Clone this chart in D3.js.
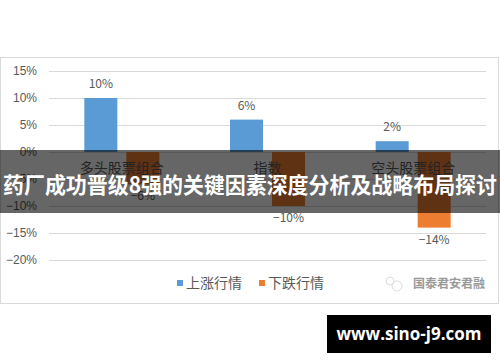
<!DOCTYPE html>
<html>
<head>
<meta charset="utf-8">
<script src="https://cdn.jsdelivr.net/npm/d3@7"></script>
<style>
  body { margin: 0; background: #fff; }
  svg { display: block; font-family: "Noto Sans CJK SC", "Noto Sans", sans-serif; }
</style>
</head>
<body>
<div id="chart"></div>
<script>
const categories = ['多头股票组合', '指数', '空头股票组合'];
const seriesNames = ['上涨行情', '下跌行情'];
const upValues = [0.10, 0.06, 0.02];
const downValues = [-0.06, -0.10, -0.14];
const yTicks = [0.15, 0.10, 0.05, 0, -0.05, -0.10, -0.15, -0.20];
const colors = ['#5B9BD5', '#ED7D31'];

const width = 500, height = 362;

const svg = d3.select('#chart').append('svg')
    .attr('width', width)
    .attr('height', height);

// chart frame
svg.append('rect')
    .attr('x', 0.5).attr('y', 57.5)
    .attr('width', 498).attr('height', 246)
    .attr('fill', '#fff')
    .attr('stroke', '#d9d9d9');

const x = d3.scaleBand()
    .domain(categories)
    .range([49, 486])
    .paddingInner(0.485)
    .paddingOuter(0.2425);

const xSub = d3.scaleBand()
    .domain(seriesNames)
    .range([0, x.bandwidth()])
    .paddingInner(0.214);

const y = d3.scaleLinear()
    .domain([-0.20, 0.15])
    .range([260, 71]);

const fmt = d3.format('.0%');

// grid + y labels
const yAxis = d3.axisLeft(y)
    .tickValues(yTicks)
    .tickFormat(fmt)
    .tickSize(-(486 - 49))
    .tickPadding(12);

const gy = svg.append('g')
    .attr('transform', 'translate(49,0)')
    .call(yAxis);
gy.select('.domain').remove();
gy.selectAll('.tick line').attr('stroke', '#d9d9d9');
gy.selectAll('.tick text')
    .attr('fill', '#595959')
    .style('font-size', '12px');

const rows = categories.map((c, i) => ({
    cat: c,
    vals: [upValues[i], downValues[i]]
}));

const groups = svg.selectAll('.grp')
    .data(rows)
  .enter().append('g')
    .attr('class', 'grp')
    .attr('transform', d => `translate(${x(d.cat)},0)`);

groups.selectAll('rect')
    .data(d => d.vals.map((v, j) => ({ key: seriesNames[j], v, j })))
  .enter().append('rect')
    .attr('x', d => xSub(d.key))
    .attr('width', xSub.bandwidth())
    .attr('y', d => y(Math.max(0, d.v)))
    .attr('height', d => Math.abs(y(d.v) - y(0)))
    .attr('fill', d => colors[d.j]);

groups.selectAll('.lbl')
    .data(d => d.vals.map((v, j) => ({ key: seriesNames[j], v, j })))
  .enter().append('text')
    .attr('class', 'lbl')
    .attr('x', d => xSub(d.key) + xSub.bandwidth() / 2)
    .attr('y', d => d.v >= 0 ? y(d.v) - 10 : y(d.v) + 16)
    .attr('text-anchor', 'middle')
    .attr('fill', '#595959')
    .style('font-size', '12px')
    .text(d => fmt(d.v).replace('-', '−'));

// category labels
svg.selectAll('.cat')
    .data(categories)
  .enter().append('text')
    .attr('class', 'cat')
    .attr('x', d => x(d) + x.bandwidth() / 2)
    .attr('y', 173)
    .attr('text-anchor', 'middle')
    .attr('fill', '#595959')
    .style('font-size', '14px')
    .text(d => d);

// legend
const legend = svg.append('g');
const legendX = [177, 259];
seriesNames.forEach((s, i) => {
    legend.append('rect')
        .attr('x', legendX[i]).attr('y', 280)
        .attr('width', 6).attr('height', 6)
        .attr('fill', colors[i]);
    legend.append('text')
        .attr('x', legendX[i] + 9).attr('y', 288)
        .attr('fill', '#595959')
        .style('font-size', '14px')
        .text(s);
});

// wechat logo mark
const logo = svg.append('g').attr('opacity', 0.5);
logo.append('circle').attr('cx', 390).attr('cy', 281).attr('r', 4)
    .attr('fill', 'none').attr('stroke', '#bbb');
logo.append('circle').attr('cx', 397).attr('cy', 286).attr('r', 5)
    .attr('fill', 'none').attr('stroke', '#bbb');
svg.append('text')
    .attr('x', 413).attr('y', 288)
    .attr('fill', '#9a9a9a')
    .style('font-size', '12px')
    .style('font-weight', 'bold')
    .text('国泰君安君融');

// title banner overlay
svg.append('rect')
    .attr('x', 0).attr('y', 150)
    .attr('width', width).attr('height', 63)
    .attr('fill', 'rgba(0,0,0,0.6)');
svg.append('text')
    .attr('x', 250).attr('y', 193)
    .attr('text-anchor', 'middle')
    .attr('fill', '#fff')
    .attr('textLength', 494)
    .attr('lengthAdjust', 'spacingAndGlyphs')
    .style('font-size', '22px')
    .style('font-weight', 'bold')
    .text('药厂成功晋级8强的关键因素深度分析及战略布局探讨');

// site badge
svg.append('rect')
    .attr('x', 327).attr('y', 315)
    .attr('width', 164).attr('height', 38)
    .attr('fill', '#000');
svg.append('text')
    .attr('x', 409).attr('y', 340)
    .attr('text-anchor', 'middle')
    .attr('fill', '#fff')
    .style('font-family', '"Open Sans", sans-serif')
    .style('font-size', '17px')
    .style('font-weight', 'bold')
    .text('www.sino-j9.com');
</script>
</body>
</html>
